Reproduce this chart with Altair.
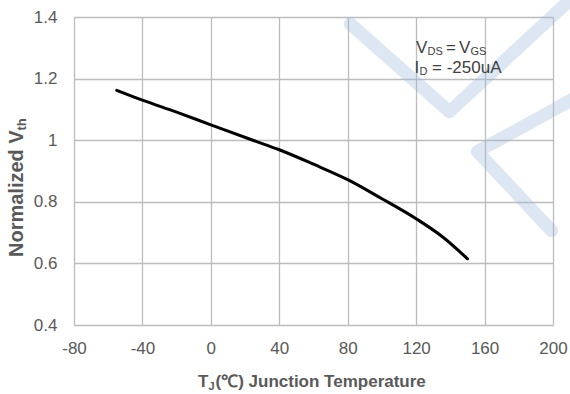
import altair as alt
import pandas as pd

# Normalized threshold voltage vs junction temperature
temp_c = [-55, -40, -20, 0, 25, 40, 60, 80, 100, 120, 135, 150]
vth_norm = [1.162, 1.130, 1.091, 1.050, 0.999, 0.969, 0.922, 0.872, 0.810, 0.745, 0.688, 0.615]

x_ticks = [-80, -40, 0, 40, 80, 120, 160, 200]
y_ticks = [0.4, 0.6, 0.8, 1.0, 1.2, 1.4]

# faint logo strokes drawn behind the curve (in data units)
logo_stroke = ["v", "v", "v", "k", "k", "k"]
logo_seq = [0, 1, 2, 0, 1, 2]
logo_x = [81.5, 139.4, 213.2, 213.2, 155.8, 199.2]
logo_y = [1.378, 1.0925, 1.472, 1.138, 0.963, 0.706]

FONT = "Liberation Sans"
TEXT = "#595959"
NOTE = "#404040"
GRID = "#bcbcbc"

curve = pd.DataFrame({"T": temp_c, "V": vth_norm})
logo = pd.DataFrame({"stroke": logo_stroke, "seq": logo_seq, "T": logo_x, "V": logo_y})

x_scale = alt.Scale(domain=[x_ticks[0], x_ticks[-1]], nice=False, zero=False)
y_scale = alt.Scale(domain=[y_ticks[0], y_ticks[-1]], nice=False, zero=False)

# plain hyphen for negative tick labels
x_axis = alt.Axis(
    values=x_ticks, title=None, grid=True, gridColor=GRID, gridWidth=1.3,
    domain=False, ticks=False, tickSize=0, labelFont=FONT, labelFontSize=17,
    labelColor=TEXT, labelPadding=15, labelFlush=False, labelOverlap=False,
    labelExpr="datum.value < 0 ? '-' + abs(datum.value) : '' + datum.value",
)
y_axis = alt.Axis(
    values=y_ticks, format="~g", title=None, grid=True, gridColor=GRID, gridWidth=1.3,
    domain=False, ticks=False, tickSize=0, labelFont=FONT, labelFontSize=17,
    labelColor=TEXT, labelPadding=17, labelFlush=False, labelOverlap=False,
)

line = alt.Chart(curve).mark_line(
    color="black", strokeWidth=3, strokeCap="round", interpolate="monotone"
).encode(
    x=alt.X("T:Q", scale=x_scale, axis=x_axis),
    y=alt.Y("V:Q", scale=y_scale, axis=y_axis),
)

logo_layer = alt.Chart(logo).mark_line(
    color="#9ab8db", opacity=0.34, strokeWidth=13, strokeCap="round",
    strokeJoin="round", clip=False,
).encode(
    x=alt.X("T:Q", scale=x_scale, axis=x_axis),
    y=alt.Y("V:Q", scale=y_scale, axis=y_axis),
    detail="stroke:N",
    order="seq:Q",
)


def label(text, x, y, size, weight="normal", angle=0, color=TEXT):
    return alt.Chart(alt.Data(values=[{}])).mark_text(
        text=text, font=FONT, fontSize=size, fontWeight=weight, color=color,
        align="left", baseline="alphabetic", angle=angle,
    ).encode(x=alt.value(x), y=alt.value(y))


texts = [
    # condition note
    label("V", 342, 36, 17, color=NOTE),
    label("DS", 353.5, 38, 11, color=NOTE),
    label("=", 372, 36, 17, color=NOTE),
    label("V", 385, 36, 17, color=NOTE),
    label("GS", 396.5, 38, 11, color=NOTE),
    label("I", 340.5, 55.5, 17, color=NOTE),
    label("D", 345.5, 57.5, 11, color=NOTE),
    label("= -250uA", 358, 55.5, 17, color=NOTE),
    # x axis title
    label("T", 124, 370, 17, "bold"),
    label("J", 134.5, 373, 11, "bold"),
    label("(℃) Junction Temperature", 141.5, 370, 17, "bold"),
    # y axis title
    label("Normalized V", -51, 240, 20, "bold", 270),
    label("th", -48.5, 113.5, 13, "bold", 270),
]

chart = alt.layer(logo_layer, line, *texts).properties(
    width=479,
    height=308,
    autosize=alt.AutoSizeParams(type="none"),
    padding={"left": 74, "top": 17, "right": 17, "bottom": 69},
    background="white",
).configure_view(stroke=None)

chart.save("out.html", embed_options={"renderer": "svg", "actions": False})
